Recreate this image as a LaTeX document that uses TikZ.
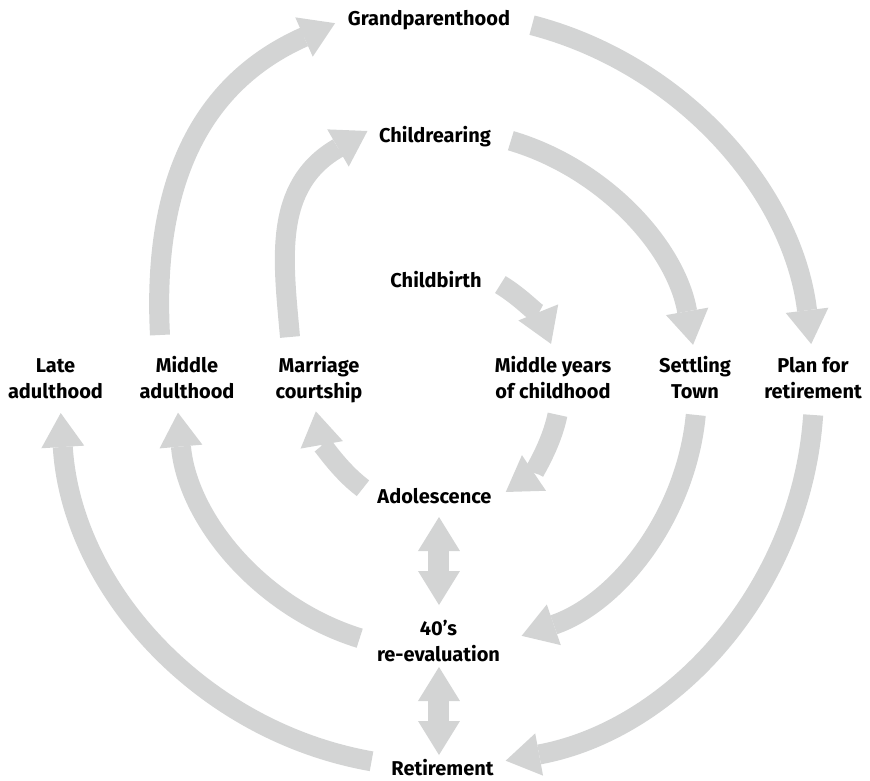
\documentclass[tikz,border=0pt]{standalone}
\usepackage{fontspec}
\setmainfont{Fira Sans}
\usetikzlibrary{arrows.meta}
\definecolor{arrowgray}{RGB}{211,212,212}

\begin{document}
\begin{tikzpicture}[x=1pt,y=1pt,
    stage/.style={font=\bfseries\fontsize{20}{26}\selectfont, align=center, anchor=base, inner sep=0pt},
    cyc/.style={color=arrowgray, line width=20pt, -{Triangle[width=43pt,length=34pt,line width=0pt]}},
    swap/.style={color=arrowgray, line width=21pt, {Triangle[width=42pt,length=34pt,line width=0pt]}-{Triangle[width=42pt,length=34pt,line width=0pt]}}]
    \useasboundingbox (-437,-390) rectangle (433,390);
    % stages (two-line ones sit on their last baseline)
    \node[stage] (grand) at (-8,364) {Grandparenthood};
    \node[stage] (rear) at (-2,248) {Childrearing};
    \node[stage] (birth) at (-1,103) {Childbirth};
    \node[stage] (late) at (-381.5,-8) {Late\\adulthood};
    \node[stage] (midad) at (-250,-8) {Middle\\adulthood};
    \node[stage] (marr) at (-118,-8) {Marriage\\courtship};
    \node[stage] (midyr) at (116,-8) {Middle years\\of childhood};
    \node[stage] (settle) at (258,-8) {Settling\\Town};
    \node[stage] (plan) at (376,-8) {Plan for\\retirement};
    \node[stage] (adol) at (-2.5,-113) {Adolescence};
    \node[stage] (eval) at (1.5,-271) {40’s\\re-evaluation};
    \node[stage] (retire) at (5.5,-385) {Retirement};
    % inner ring
    \coordinate (birth-out) at (59:123);
    \coordinate (midyr-out) at (-11.6:123);
    \coordinate (adol-out) at (233:123);
    \draw[cyc] (birth-out) arc[start angle=59, end angle=22, radius=123];
    \draw[cyc] (midyr-out) arc[start angle=-11.6, end angle=-56, radius=123];
    \draw[cyc] (adol-out) arc[start angle=233, end angle=190, radius=123];
    % middle ring
    \coordinate (marr-out) at (-147,53);
    \coordinate (rear-in) at (-99,242);
    \coordinate (rear-out) at (73.5:260);
    \coordinate (settle-out) at (-5.5:260);
    \coordinate (eval-out) at (252.7:260);
    \draw[cyc] (marr-out) to[out=95,in=210] (rear-in) -- ++(30:34);
    \draw[cyc] (rear-out) arc[start angle=73.5, end angle=10, radius=260];
    \draw[cyc] (settle-out) arc[start angle=-5.5, end angle=-71, radius=260];
    \draw[cyc] (eval-out) arc[start angle=252.7, end angle=185, radius=260];
    % outer ring
    \coordinate (midad-out) at (-277,55);
    \coordinate (grand-in) at (-133,353);
    \coordinate (grand-out) at (75.4:377);
    \coordinate (plan-out) at (-3.8:377);
    \coordinate (retire-out) at (260:377);
    \draw[cyc] (midad-out) to[out=93,in=204] (grand-in) -- ++(24:34);
    \draw[cyc] (grand-out) arc[start angle=75.4, end angle=7, radius=377];
    \draw[cyc] (plan-out) arc[start angle=-3.8, end angle=-79.5, radius=377];
    \draw[cyc] (retire-out) arc[start angle=260, end angle=183.5, radius=377];
    % two-way links
    \coordinate (adol-s) at (2,-127);
    \coordinate (eval-n) at (2,-215);
    \coordinate (eval-s) at (2,-277);
    \coordinate (retire-n) at (2,-365);
    \draw[swap] (adol-s) -- (eval-n);
    \draw[swap] (eval-s) -- (retire-n);
\end{tikzpicture}
\end{document}
